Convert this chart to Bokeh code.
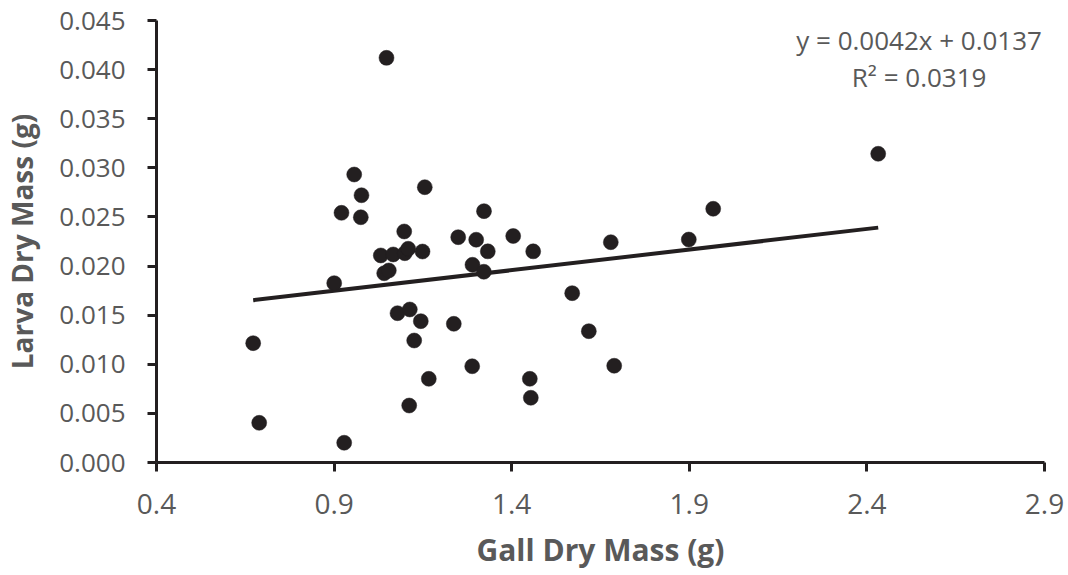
from bokeh.plotting import figure
from bokeh.models import FixedTicker, PrintfTickFormatter, Label, Range1d
from bokeh.embed import file_html
from bokeh.resources import INLINE

# Data
gall_mass = [1.0475, 0.9566, 0.9771, 0.9208, 0.9752, 1.1553, 1.0974, 1.2494, 1.3000,
             1.3220, 1.4042, 1.0315, 1.0664, 1.0990, 1.1086, 1.1489, 1.3327, 1.4605,
             1.0410, 1.0540, 0.9003, 1.2896, 1.3215, 1.0785, 1.1131, 1.1441, 1.2370,
             1.1255, 0.6722, 1.2888, 1.1666, 1.4510, 1.4538, 1.1114, 0.6891, 0.9284,
             2.4318, 1.9673, 1.6790, 1.8986, 1.5703, 1.6171, 1.6886]
larva_mass = [0.04120, 0.02932, 0.02721, 0.02542, 0.02497, 0.02803, 0.02352, 0.02294, 0.02268,
              0.02559, 0.02306, 0.02108, 0.02118, 0.02131, 0.02176, 0.02148, 0.02150, 0.02150,
              0.01927, 0.01955, 0.01826, 0.02013, 0.01942, 0.01520, 0.01558, 0.01439, 0.01412,
              0.01242, 0.01215, 0.00980, 0.00852, 0.00852, 0.00659, 0.00580, 0.00404, 0.00201,
              0.03143, 0.02583, 0.02243, 0.02270, 0.01724, 0.01337, 0.00985]
slope = 0.0042
intercept = 0.0137
r_squared = 0.0319
x_ticks = [0.4, 0.9, 1.4, 1.9, 2.4, 2.9]
y_ticks = [0.0, 0.005, 0.010, 0.015, 0.020, 0.025, 0.030, 0.035, 0.040, 0.045]

INK = "#231f20"
GRAY = "#595959"
FONT = "Open Sans"

p = figure(width=1068, height=575, output_backend="svg", toolbar_location=None,
           x_range=Range1d(0.4, 2.9), y_range=Range1d(0.0, 0.045),
           min_border_left=156, min_border_right=24, min_border_top=20, min_border_bottom=113)
p.frame_width = 888
p.frame_height = 442
p.outline_line_color = None
p.background_fill_color = "white"
p.border_fill_color = "white"
p.xgrid.visible = False
p.ygrid.visible = False

for ax in (p.xaxis[0], p.yaxis[0]):
    ax.axis_line_color = INK
    ax.axis_line_width = 3
    ax.major_tick_line_color = INK
    ax.major_tick_line_width = 3
    ax.major_tick_out = 9
    ax.major_tick_in = 0
    ax.minor_tick_line_color = None
    ax.major_label_text_color = GRAY
    ax.major_label_text_font = FONT
    ax.axis_label_text_color = GRAY
    ax.axis_label_text_font = FONT
    ax.axis_label_text_font_style = "bold"

p.xaxis.ticker = FixedTicker(ticks=x_ticks)
p.yaxis.ticker = FixedTicker(ticks=y_ticks)
p.xaxis.formatter = PrintfTickFormatter(format="%.1f")
p.yaxis.formatter = PrintfTickFormatter(format="%.3f")
p.xaxis.major_label_text_font_size = "28px"
p.yaxis.major_label_text_font_size = "26px"
p.xaxis.major_label_standoff = 22
p.yaxis.major_label_standoff = 22
p.xaxis.axis_label = "Gall Dry Mass (g)"
p.yaxis.axis_label = "Larva Dry Mass (g)"
p.xaxis.axis_label_text_font_size = "30px"
p.yaxis.axis_label_text_font_size = "28px"
p.xaxis.axis_label_standoff = 12
p.yaxis.axis_label_standoff = 15

# trend line over the data extent
x0 = min(gall_mass)
x1 = max(gall_mass)
p.line([x0, x1], [slope * x0 + intercept, slope * x1 + intercept],
       line_color=INK, line_width=4)

p.scatter(gall_mass, larva_mass, size=15, fill_color=INK, line_color=INK, line_width=0.5)

eq1 = Label(x=2.547, y=0.04297, text="y = %.4fx + %.4f" % (slope, intercept),
            text_align="center", text_baseline="middle", text_font=FONT,
            text_font_size="26px", text_color=GRAY)
eq2 = Label(x=2.547, y=0.0392, text="R\u00b2 = %.4f" % r_squared,
            text_align="center", text_baseline="middle", text_font=FONT,
            text_font_size="26px", text_color=GRAY)
p.add_layout(eq1)
p.add_layout(eq2)

open("out.html", "w").write(file_html(p, INLINE))
